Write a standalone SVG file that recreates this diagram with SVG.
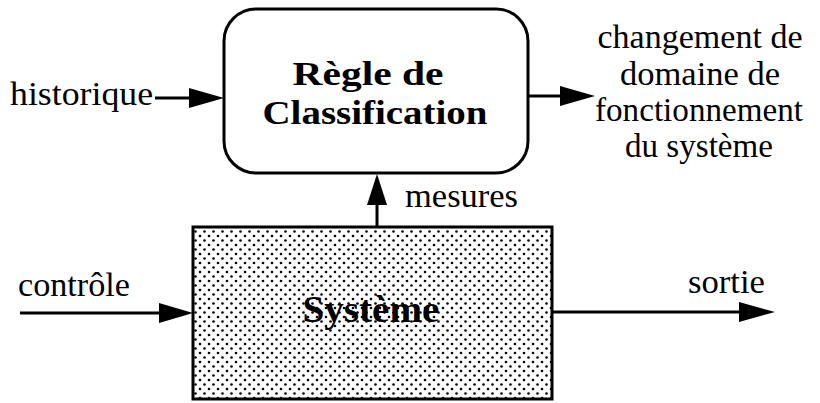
<svg xmlns="http://www.w3.org/2000/svg" width="820" height="403" viewBox="0 0 820 403">
<style>
text{font-family:"Liberation Serif","DejaVu Serif",serif;fill:#000}
.n{font-size:33px}
.b{font-size:34px;font-weight:bold}
.s{font-size:38px;font-weight:bold}
.box{stroke:#000;stroke-width:3}
.ln{stroke:#000;stroke-width:3;fill:none}
.ah{fill:#000}
</style>
<defs>
<pattern id="dots" x="0" y="0" width="9" height="9" patternUnits="userSpaceOnUse">
<rect width="9" height="9" fill="#fff"/>
<circle cx="2" cy="2" r="1.3" fill="#000"/>
<circle cx="6.5" cy="6.5" r="1.3" fill="#000"/>
</pattern>
</defs>
<g id="regle">
<rect class="box" x="224" y="9" width="304" height="164" rx="32" ry="32" fill="#fff"/>
<text class="b" x="368" y="85" text-anchor="middle" textLength="151" lengthAdjust="spacingAndGlyphs">Règle de</text>
<text class="b" x="375" y="124" text-anchor="middle" textLength="225" lengthAdjust="spacingAndGlyphs">Classification</text>
</g>
<g id="systeme">
<rect class="box" x="193" y="227" width="359" height="172" fill="url(#dots)"/>
<text class="s" x="371" y="322" text-anchor="middle" textLength="137" lengthAdjust="spacingAndGlyphs">Système</text>
</g>
<g id="connectors">
<line class="ln" x1="155" y1="98" x2="195" y2="98"/>
<polygon class="ah" points="189,88 224,98 189,108"/>
<line class="ln" x1="528" y1="96" x2="565" y2="96"/>
<polygon class="ah" points="560,86 595,96 560,106"/>
<line class="ln" x1="377" y1="227" x2="377" y2="195"/>
<polygon class="ah" points="367,205 377,174 387,205"/>
<line class="ln" x1="20" y1="313" x2="165" y2="313"/>
<polygon class="ah" points="159,303 193,313 159,323"/>
<line class="ln" x1="552" y1="312" x2="745" y2="312"/>
<polygon class="ah" points="739,302 775,312 739,322"/>
</g>
<g id="labels">
<text class="n" x="10" y="105" textLength="143" lengthAdjust="spacingAndGlyphs">historique</text>
<text class="n" x="18" y="296" textLength="112" lengthAdjust="spacingAndGlyphs">contrôle</text>
<text class="n" x="405" y="207" textLength="113" lengthAdjust="spacingAndGlyphs">mesures</text>
<text class="n" x="688" y="293" textLength="77" lengthAdjust="spacingAndGlyphs">sortie</text>
<text class="n" x="700" y="48" text-anchor="middle" textLength="205" lengthAdjust="spacingAndGlyphs">changement de</text>
<text class="n" x="700" y="85" text-anchor="middle" textLength="160" lengthAdjust="spacingAndGlyphs">domaine de</text>
<text class="n" x="699" y="121" text-anchor="middle" textLength="208" lengthAdjust="spacingAndGlyphs">fonctionnement</text>
<text class="n" x="699" y="157" text-anchor="middle" textLength="148" lengthAdjust="spacingAndGlyphs">du système</text>
</g>
</svg>
